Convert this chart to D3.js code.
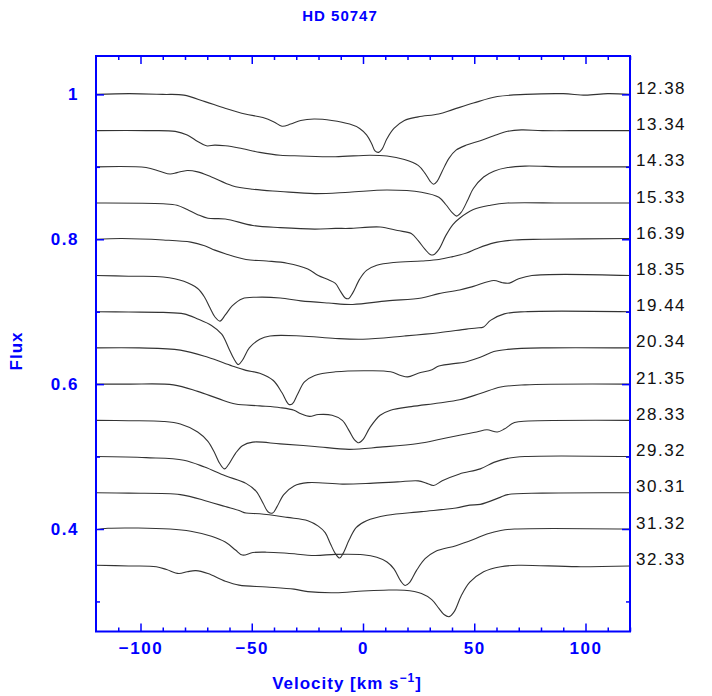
<!DOCTYPE html>
<html>
<head>
<meta charset="utf-8">
<style>
    body { margin: 0; background: #fff; }
    svg { display: block; }
    .axis text { font-family: "Liberation Sans", Arial, sans-serif; font-size: 17px; font-weight: bold; letter-spacing: 1.5px; fill: blue; }
    .axis line { stroke: blue; stroke-width: 1.5; }
    .axis .domain { display: none; }
    .title { font-family: "Liberation Sans", Arial, sans-serif; font-size: 15px; font-weight: bold; letter-spacing: 1px; fill: blue; }
    .axis-label { font-family: "Liberation Sans", Arial, sans-serif; font-size: 17px; font-weight: bold; letter-spacing: 1px; fill: blue; }
    .epoch { font-family: "Liberation Sans", Arial, sans-serif; font-size: 17px; letter-spacing: 1.5px; fill: #111; }
    .spec { fill: none; stroke: #333; stroke-width: 1.1; }
</style>
</head>
<body>
<svg width="712" height="696"></svg>
<script src="https://d3js.org/d3.v7.min.js"></script>
<script>

// epochs (labels on the right) and the continuum level of each spectrum
let epochs = ["12.38", "13.34", "14.33", "15.33", "16.39", "18.35", "19.44",
              "20.34", "21.35", "28.33", "29.32", "30.31", "31.32", "32.33"]
let levels = [1.00, 0.95, 0.90, 0.85, 0.80, 0.75, 0.70, 0.65, 0.60, 0.55, 0.50, 0.45, 0.40, 0.35]

// spectra: [velocity km/s, flux]
let s1238 = [[-120,1.000],[-105,1.001],[-90,1.000],[-80.5,0.999],[-71,0.990],[-62,0.981],[-53,0.973],[-45,0.968],[-40,0.962],[-36.4,0.956],[-32.5,0.959],[-28,0.964],[-22,0.966],[-14,0.964],[-6,0.959],[-1.5,0.953],[1.6,0.944],[3.9,0.932],[5.4,0.922],[7,0.920],[8.5,0.924],[10.8,0.939],[13.9,0.953],[18.6,0.964],[24.8,0.969],[34,0.973],[40.3,0.979],[49.6,0.988],[60.4,0.997],[73,1.000],[90,1.001],[100,0.999],[110,1.001],[120,1.000]]
let s1334 = [[-120,0.950],[-97.5,0.950],[-84.4,0.949],[-79,0.944],[-74.3,0.935],[-70.4,0.929],[-66.6,0.930],[-61.9,0.929],[-55.7,0.926],[-46.4,0.920],[-37.2,0.916],[-27.9,0.915],[-12.4,0.914],[3.1,0.916],[10.8,0.915],[18.6,0.910],[24.8,0.902],[27.9,0.891],[30.2,0.880],[31.7,0.876],[33.3,0.880],[35.6,0.894],[38.7,0.912],[41.8,0.923],[46.5,0.930],[52.7,0.936],[58.8,0.943],[65,0.949],[71.2,0.951],[80.5,0.950],[100,0.950],[120,0.950]]
let s1433 = [[-120,0.900],[-97.5,0.899],[-91.4,0.894],[-86.7,0.890],[-83.6,0.892],[-79,0.895],[-74.3,0.893],[-68.1,0.886],[-58.8,0.874],[-49.5,0.869],[-37.2,0.866],[-21.7,0.863],[-6.2,0.865],[10.8,0.868],[26.3,0.865],[34.1,0.858],[37.2,0.848],[40.3,0.836],[42.1,0.832],[44.1,0.837],[47.2,0.855],[49.6,0.870],[54.2,0.886],[58.8,0.894],[65,0.899],[72.8,0.901],[90,0.900],[120,0.900]]
let s1533 = [[-120,0.850],[-89.8,0.849],[-83.6,0.847],[-79,0.841],[-74.3,0.834],[-69.7,0.829],[-61.9,0.828],[-49.5,0.819],[-37.2,0.816],[-21.7,0.814],[-12.4,0.815],[-6.2,0.815],[7.7,0.817],[15.5,0.812],[21.7,0.808],[24.8,0.798],[27.9,0.786],[30.2,0.779],[31.7,0.7785],[34.1,0.786],[37.2,0.805],[40.3,0.820],[43.4,0.829],[49.6,0.841],[57.3,0.847],[65,0.850],[90,0.850],[120,0.850]]
let s1639 = [[-120,0.800],[-108.4,0.801],[-89.8,0.799],[-77.4,0.796],[-71.2,0.791],[-66.6,0.785],[-61.9,0.780],[-52.6,0.772],[-43.3,0.770],[-34.1,0.767],[-24.8,0.759],[-20.1,0.750],[-15.5,0.744],[-12.4,0.739],[-10.1,0.728],[-8,0.719],[-6.5,0.718],[-4.6,0.726],[-1.5,0.745],[1.6,0.757],[6.2,0.764],[13.9,0.768],[26.3,0.770],[34.1,0.772],[40.3,0.776],[46.5,0.781],[51.1,0.787],[58.8,0.795],[68.1,0.799],[80.5,0.800],[120,0.801]]
let s1835 = [[-120,0.750],[-105.3,0.749],[-89.8,0.748],[-80.5,0.742],[-74.3,0.732],[-71.2,0.720],[-68.9,0.706],[-66.6,0.693],[-64.3,0.687],[-61.9,0.6955],[-58.8,0.708],[-54.2,0.718],[-48,0.720],[-37.2,0.719],[-27.9,0.715],[-15.5,0.712],[-4.6,0.710],[10.8,0.715],[26.3,0.719],[34.1,0.725],[43.4,0.730],[49.6,0.735],[58.8,0.743],[62.7,0.740],[65.8,0.7395],[69.7,0.745],[75.9,0.750],[120,0.750]]
let s1944 = [[-120,0.700],[-105.3,0.6995],[-89.8,0.699],[-80.5,0.697],[-74.3,0.690],[-68.1,0.681],[-63.5,0.669],[-60.4,0.650],[-58.1,0.6355],[-56,0.627],[-54.2,0.633],[-51.1,0.650],[-46.4,0.662],[-41.8,0.6665],[-27.9,0.6665],[-12.4,0.663],[0,0.662],[18.6,0.6665],[34.1,0.671],[46.5,0.676],[51.1,0.6775],[54.2,0.679],[57.3,0.688],[63.5,0.697],[72.8,0.700],[120,0.700]]
let s2034 = [[-120,0.650],[-100.6,0.650],[-82.1,0.647],[-69.7,0.637],[-58.8,0.625],[-52.6,0.619],[-46.4,0.615],[-40.3,0.605],[-36.4,0.588],[-33.3,0.572],[-31.7,0.573],[-29.4,0.586],[-26.3,0.603],[-21.7,0.612],[-12.4,0.617],[3.1,0.6185],[12.4,0.617],[17,0.612],[20.1,0.610],[24.8,0.615],[31,0.620],[34.1,0.625],[46.5,0.631],[52.7,0.637],[58.8,0.645],[65,0.648],[80.5,0.650],[120,0.650]]
let s2135 = [[-120,0.600],[-105.3,0.600],[-85.2,0.599],[-74.3,0.590],[-65,0.580],[-57.3,0.5725],[-46.4,0.570],[-37.2,0.5675],[-31,0.564],[-27.9,0.559],[-24,0.5555],[-20.1,0.558],[-13.9,0.557],[-9.3,0.550],[-6.2,0.5355],[-3.9,0.5235],[-1.9,0.519],[0,0.5235],[3.1,0.540],[7.7,0.557],[12.4,0.564],[21.7,0.569],[34.1,0.574],[43.4,0.5785],[52.7,0.587],[61.9,0.596],[72.8,0.599],[120,0.600]]
let s2833 = [[-120,0.550],[-105.3,0.5495],[-89.8,0.5485],[-82.1,0.545],[-74.3,0.534],[-69.7,0.521],[-66.6,0.5045],[-64.3,0.490],[-62.2,0.483],[-60.4,0.489],[-57.3,0.5045],[-54.2,0.515],[-49.5,0.520],[-37.2,0.5175],[-21.7,0.514],[-6.2,0.510],[7.7,0.513],[24.8,0.518],[34.1,0.5235],[43.4,0.5295],[51.1,0.534],[55.7,0.537],[60.4,0.534],[63.5,0.538],[68.1,0.547],[74.3,0.549],[120,0.550]]
let s2932 = [[-120,0.500],[-97.5,0.4985],[-80.5,0.495],[-71.2,0.4855],[-61.9,0.4735],[-52.6,0.463],[-48,0.452],[-44.9,0.4355],[-42.6,0.4235],[-40.6,0.422],[-38.7,0.4305],[-35.6,0.4475],[-31,0.4595],[-24.8,0.464],[-9.3,0.462],[3.1,0.463],[15.5,0.465],[24.8,0.4665],[28.7,0.463],[31.7,0.460],[35.6,0.4665],[43.4,0.476],[52.7,0.483],[58.8,0.492],[65,0.4975],[72.8,0.500],[120,0.500]]
let s3031 = [[-120,0.450],[-105.3,0.4495],[-82.1,0.4475],[-69.7,0.438],[-61.9,0.431],[-55.7,0.4255],[-52.6,0.422],[-46.4,0.421],[-34.1,0.416],[-24.8,0.4115],[-20.1,0.404],[-17,0.395],[-14.7,0.380],[-12.4,0.366],[-10.5,0.360],[-9,0.366],[-6.2,0.385],[-3.1,0.402],[1.6,0.4115],[10.8,0.419],[26.3,0.424],[41.8,0.429],[48,0.433],[52.7,0.434],[61.9,0.444],[65,0.4475],[80.5,0.4495],[120,0.450]]
let s3132 = [[-120,0.399],[-114.6,0.401],[-86.7,0.400],[-77.4,0.397],[-68.1,0.390],[-61.9,0.382],[-57.3,0.371],[-54.2,0.364],[-49.5,0.3675],[-43.3,0.368],[-34.1,0.3665],[-21.7,0.3635],[-12.4,0.365],[0,0.3645],[6.2,0.361],[10.8,0.3545],[13.9,0.345],[17,0.328],[18.9,0.322],[20.9,0.326],[24,0.3425],[27.9,0.359],[32.5,0.369],[41.8,0.377],[49.6,0.3855],[55.7,0.393],[61.9,0.398],[68.1,0.400],[120,0.400]]
let s3233 = [[-120,0.350],[-105.3,0.349],[-92.9,0.348],[-88.3,0.344],[-82.8,0.3385],[-79,0.341],[-75.1,0.3425],[-69.7,0.3385],[-61.9,0.328],[-55.7,0.3225],[-43.3,0.320],[-31,0.317],[-24.8,0.3135],[-12.4,0.312],[0,0.3145],[9.3,0.3155],[18.6,0.3155],[26.3,0.311],[30.9,0.3025],[34.1,0.2905],[36.4,0.282],[38.7,0.279],[41,0.286],[44.1,0.3075],[48,0.3265],[54.2,0.341],[61.9,0.348],[69.7,0.350],[96,0.348],[120,0.349]]

let spectra = [s1238, s1334, s1433, s1533, s1639, s1835, s1944,
               s2034, s2135, s2833, s2932, s3031, s3132, s3233]

let xMajor = [-100, -50, 0, 50, 100]
let yMajor = [0.4, 0.6, 0.8, 1.0]

let margin = { top: 56, right: 82, bottom: 64.5, left: 96 }
let width = 712, height = 696

let svg = d3.select("svg")

let x = d3.scaleLinear().domain([-120, 120]).range([margin.left, width - margin.right])
let y = d3.scaleLinear().domain([0.2585, 1.053]).range([height - margin.bottom, margin.top])

let xMinor = d3.range(-110, 121, 10).filter(d => xMajor.indexOf(d) < 0)
let yMinor = [0.3, 0.5, 0.7, 0.9]

let line = d3.line()
    .x(d => x(d[0]))
    .y(d => y(d[1]))
    .curve(d3.curveCatmullRom.alpha(0.5))

svg.append("g")
    .selectAll("path")
    .data(spectra)
    .join("path")
    .attr("class", "spec")
    .attr("d", line)

// epoch labels
svg.append("g")
    .selectAll("text")
    .data(epochs)
    .join("text")
    .attr("class", "epoch")
    .attr("x", width - margin.right + 6)
    .attr("y", (d, i) => y(levels[i]) - 0.5)
    .text(d => d)

// axes: ticks point inward on all four sides
let bottom = height - margin.bottom
let right = width - margin.right

svg.append("g").attr("class", "axis")
    .attr("transform", `translate(0,${bottom})`)
    .call(d3.axisBottom(x).tickValues(xMajor).tickSize(-8).tickPadding(10))
svg.append("g").attr("class", "axis")
    .attr("transform", `translate(0,${bottom})`)
    .call(d3.axisBottom(x).tickValues(xMinor).tickSize(-4).tickFormat(""))
svg.append("g").attr("class", "axis")
    .attr("transform", `translate(0,${margin.top})`)
    .call(d3.axisTop(x).tickValues(xMajor).tickSize(-8).tickFormat(""))
svg.append("g").attr("class", "axis")
    .attr("transform", `translate(0,${margin.top})`)
    .call(d3.axisTop(x).tickValues(xMinor).tickSize(-4).tickFormat(""))

svg.append("g").attr("class", "axis")
    .attr("transform", `translate(${margin.left},0)`)
    .call(d3.axisLeft(y).tickValues(yMajor).tickSize(-8).tickPadding(17).tickFormat(d3.format("~g")))
svg.append("g").attr("class", "axis")
    .attr("transform", `translate(${margin.left},0)`)
    .call(d3.axisLeft(y).tickValues(yMinor).tickSize(-4).tickFormat(""))
svg.append("g").attr("class", "axis")
    .attr("transform", `translate(${right},0)`)
    .call(d3.axisRight(y).tickValues(yMajor).tickSize(-8).tickFormat(""))
svg.append("g").attr("class", "axis")
    .attr("transform", `translate(${right},0)`)
    .call(d3.axisRight(y).tickValues(yMinor).tickSize(-4).tickFormat(""))

// frame
svg.append("rect")
    .attr("x", margin.left)
    .attr("y", margin.top)
    .attr("width", right - margin.left)
    .attr("height", bottom - margin.top)
    .attr("fill", "none")
    .attr("stroke", "blue")
    .attr("stroke-width", 2)

// titles
svg.append("text")
    .attr("class", "title")
    .attr("x", 340)
    .attr("y", 21)
    .attr("text-anchor", "middle")
    .text("HD 50747")

let xl = svg.append("text")
    .attr("class", "axis-label")
    .attr("x", 347)
    .attr("y", 689)
    .attr("text-anchor", "middle")
xl.append("tspan").text("Velocity [km s")
xl.append("tspan").attr("dy", -7).attr("font-size", 12).text("\u22121")
xl.append("tspan").attr("dy", 7).text("]")

svg.append("text")
    .attr("class", "axis-label")
    .attr("transform", "translate(22,351) rotate(-90)")
    .attr("text-anchor", "middle")
    .text("Flux")

</script>
</body>
</html>
